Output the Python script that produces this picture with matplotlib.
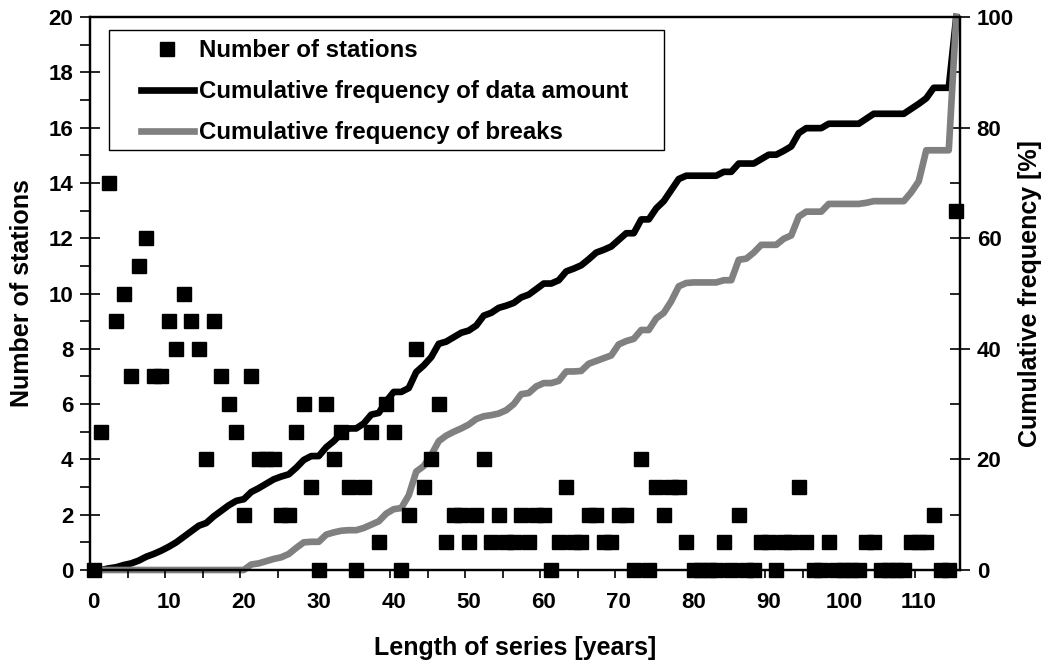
import matplotlib
matplotlib.use("Agg")
import matplotlib.pyplot as plt
from matplotlib.patches import Rectangle
from matplotlib.lines import Line2D

plt.rcParams['font.family'] = ['Liberation Sans', 'DejaVu Sans']
plt.rcParams['font.weight'] = 'bold'

# length of series (categories 0..115)
years = list(range(116))

# number of stations per series length
stations = [0, 5, 14, 9, 10, 7, 11, 12, 7, 7,
            9, 8, 10, 9, 8, 4, 9, 7, 6, 5,
            2, 7, 4, 4, 4, 2, 2, 5, 6, 3,
            0, 6, 4, 5, 3, 0, 3, 5, 1, 6,
            5, 0, 2, 8, 3, 4, 6, 1, 2, 2,
            1, 2, 4, 1, 2, 1, 1, 2, 1, 2,
            2, 0, 1, 3, 1, 1, 2, 2, 1, 1,
            2, 2, 0, 4, 0, 3, 2, 3, 3, 1,
            0, 0, 0, 0, 1, 0, 2, 0, 0, 1,
            1, 0, 1, 1, 3, 1, 0, 0, 1, 0,
            0, 0, 0, 1, 1, 0, 0, 0, 0, 1,
            1, 1, 2, 0, 0, 13]

# cumulative frequency of data amount [%]
cum_data = [0.0, 0.0, 0.3, 0.5, 0.9, 1.2, 1.7, 2.4, 2.9, 3.5,
            4.2, 5.0, 6.0, 7.0, 8.0, 8.5, 9.7, 10.7, 11.7, 12.5,
            12.8, 14.1, 14.8, 15.6, 16.4, 16.9, 17.3, 18.5, 19.9, 20.6,
            20.6, 22.2, 23.3, 24.7, 25.6, 25.6, 26.5, 28.1, 28.4, 30.5,
            32.2, 32.2, 32.9, 35.8, 37.0, 38.5, 40.9, 41.3, 42.1, 42.9,
            43.3, 44.2, 46.0, 46.5, 47.4, 47.8, 48.3, 49.3, 49.8, 50.8,
            51.8, 51.8, 52.4, 54.0, 54.5, 55.1, 56.2, 57.4, 57.9, 58.5,
            59.7, 60.9, 60.9, 63.4, 63.4, 65.4, 66.7, 68.7, 70.7, 71.3,
            71.3, 71.3, 71.3, 71.3, 72.0, 72.0, 73.5, 73.5, 73.5, 74.3,
            75.1, 75.1, 75.8, 76.6, 79.0, 79.9, 79.9, 79.9, 80.7, 80.7,
            80.7, 80.7, 80.7, 81.6, 82.5, 82.5, 82.5, 82.5, 82.5, 83.4,
            84.3, 85.3, 87.2, 87.2, 87.2, 100.0]

# cumulative frequency of breaks [%]
cum_breaks = [0.0, 0.0, 0.0, 0.0, 0.0, 0.0, 0.0, 0.0, 0.0, 0.0,
              0.0, 0.0, 0.0, 0.0, 0.0, 0.0, 0.0, 0.0, 0.0, 0.0,
              0.0, 1.0, 1.2, 1.6, 2.0, 2.3, 2.9, 4.0, 5.0, 5.1,
              5.1, 6.4, 6.8, 7.1, 7.2, 7.2, 7.6, 8.2, 8.8, 10.2,
              11.0, 11.2, 13.5, 17.8, 18.8, 20.8, 23.3, 24.3, 25.0, 25.6,
              26.3, 27.3, 27.8, 28.0, 28.3, 28.9, 30.0, 31.8, 32.0, 33.2,
              33.8, 33.8, 34.2, 35.9, 35.9, 36.0, 37.3, 37.8, 38.3, 38.8,
              40.8, 41.4, 41.8, 43.4, 43.4, 45.5, 46.5, 48.6, 51.3, 51.9,
              52.0, 52.0, 52.0, 52.0, 52.4, 52.4, 56.1, 56.3, 57.4, 58.8,
              58.8, 58.8, 59.9, 60.5, 63.9, 64.8, 64.8, 64.8, 66.2, 66.2,
              66.2, 66.2, 66.2, 66.4, 66.7, 66.7, 66.7, 66.7, 66.7, 68.3,
              70.3, 75.9, 75.9, 75.9, 75.9, 100.0]

fig = plt.figure(figsize=(10.5, 6.68), dpi=100)
ax = fig.add_axes([90 / 1050, 1 - 570 / 668, 870 / 1050, 553 / 668])
ax2 = ax.twinx()
# markers drawn above the lines
ax.set_zorder(ax2.get_zorder() + 1)
ax.patch.set_visible(False)

ax.plot(years, stations, linestyle='none', marker='s', markersize=10,
        color='black', clip_on=False, zorder=3)
ax2.plot(years, cum_data, color='black', linewidth=4.8, clip_on=False,
         solid_joinstyle='round')
ax2.plot(years, cum_breaks, color='#808080', linewidth=4.8, clip_on=False,
         solid_joinstyle='round')

ax.set_xlim(-0.5, 115.5)
ax.set_ylim(0, 20)
ax2.set_ylim(0, 100)

# x axis: labels at category centres, tick marks between categories
ax.set_xticks(range(0, 111, 10))
ax.set_xticks([x - 0.5 for x in range(0, 116, 5)], minor=True)
ax.tick_params(axis='x', which='major', length=0, pad=16, labelsize=16)
ax.tick_params(axis='x', which='minor', direction='out', length=6, width=1.2)

ax.set_yticks(range(0, 21, 2))
ax.set_yticks(range(1, 20, 2), minor=True)
ax.tick_params(axis='y', which='major', direction='inout', length=14,
               width=1.2, pad=5, labelsize=16)
ax.tick_params(axis='y', which='minor', direction='out', length=7, width=1.2)

ax2.set_yticks(range(0, 101, 20))
ax2.set_yticks(range(10, 100, 20), minor=True)
ax2.tick_params(axis='y', which='major', direction='inout', length=14,
                width=1.2, pad=5, labelsize=16)
ax2.tick_params(axis='y', which='minor', direction='in', length=7, width=1.2)

for a in (ax, ax2):
    for s in a.spines.values():
        s.set_linewidth(1.6)

ax.set_xlabel('Length of series [years]', fontsize=18, fontweight='bold')
ax.xaxis.set_label_coords(0.4885, -0.141)
ax.xaxis.label.set_va('center')
ax.set_ylabel('Number of stations', fontsize=18, fontweight='bold')
ax.yaxis.set_label_coords(-0.078, 0.5)
ax.yaxis.label.set_va('center')
ax2.set_ylabel('Cumulative frequency [%]', fontsize=18, fontweight='bold',
               rotation=90)
ax2.yaxis.set_label_coords(1.0805, 0.5)
ax2.yaxis.label.set_va('center')

# legend box
box = Rectangle((19 / 870, (570 - 150) / 553), 555 / 870, 120 / 553,
                transform=ax2.transAxes, facecolor='white', edgecolor='black',
                linewidth=1.0, zorder=4)
ax2.add_patch(box)
handles = [Line2D([], [], linestyle='none', marker='s', markersize=10,
                  color='black'),
           Line2D([], [], color='black', linewidth=4.8),
           Line2D([], [], color='#808080', linewidth=4.8)]
labels = ['Number of stations', 'Cumulative frequency of data amount',
          'Cumulative frequency of breaks']
leg = ax2.legend(handles, labels, loc='upper left',
                 bbox_to_anchor=(51 / 870, (570 - 39) / 553),
                 frameon=False, borderpad=0, borderaxespad=0,
                 handlelength=2.2, handletextpad=0.2, labelspacing=0.75,
                 prop={'size': 17.3, 'weight': 'bold'})
leg.set_zorder(5)

fig.savefig('out.png', dpi=100)
